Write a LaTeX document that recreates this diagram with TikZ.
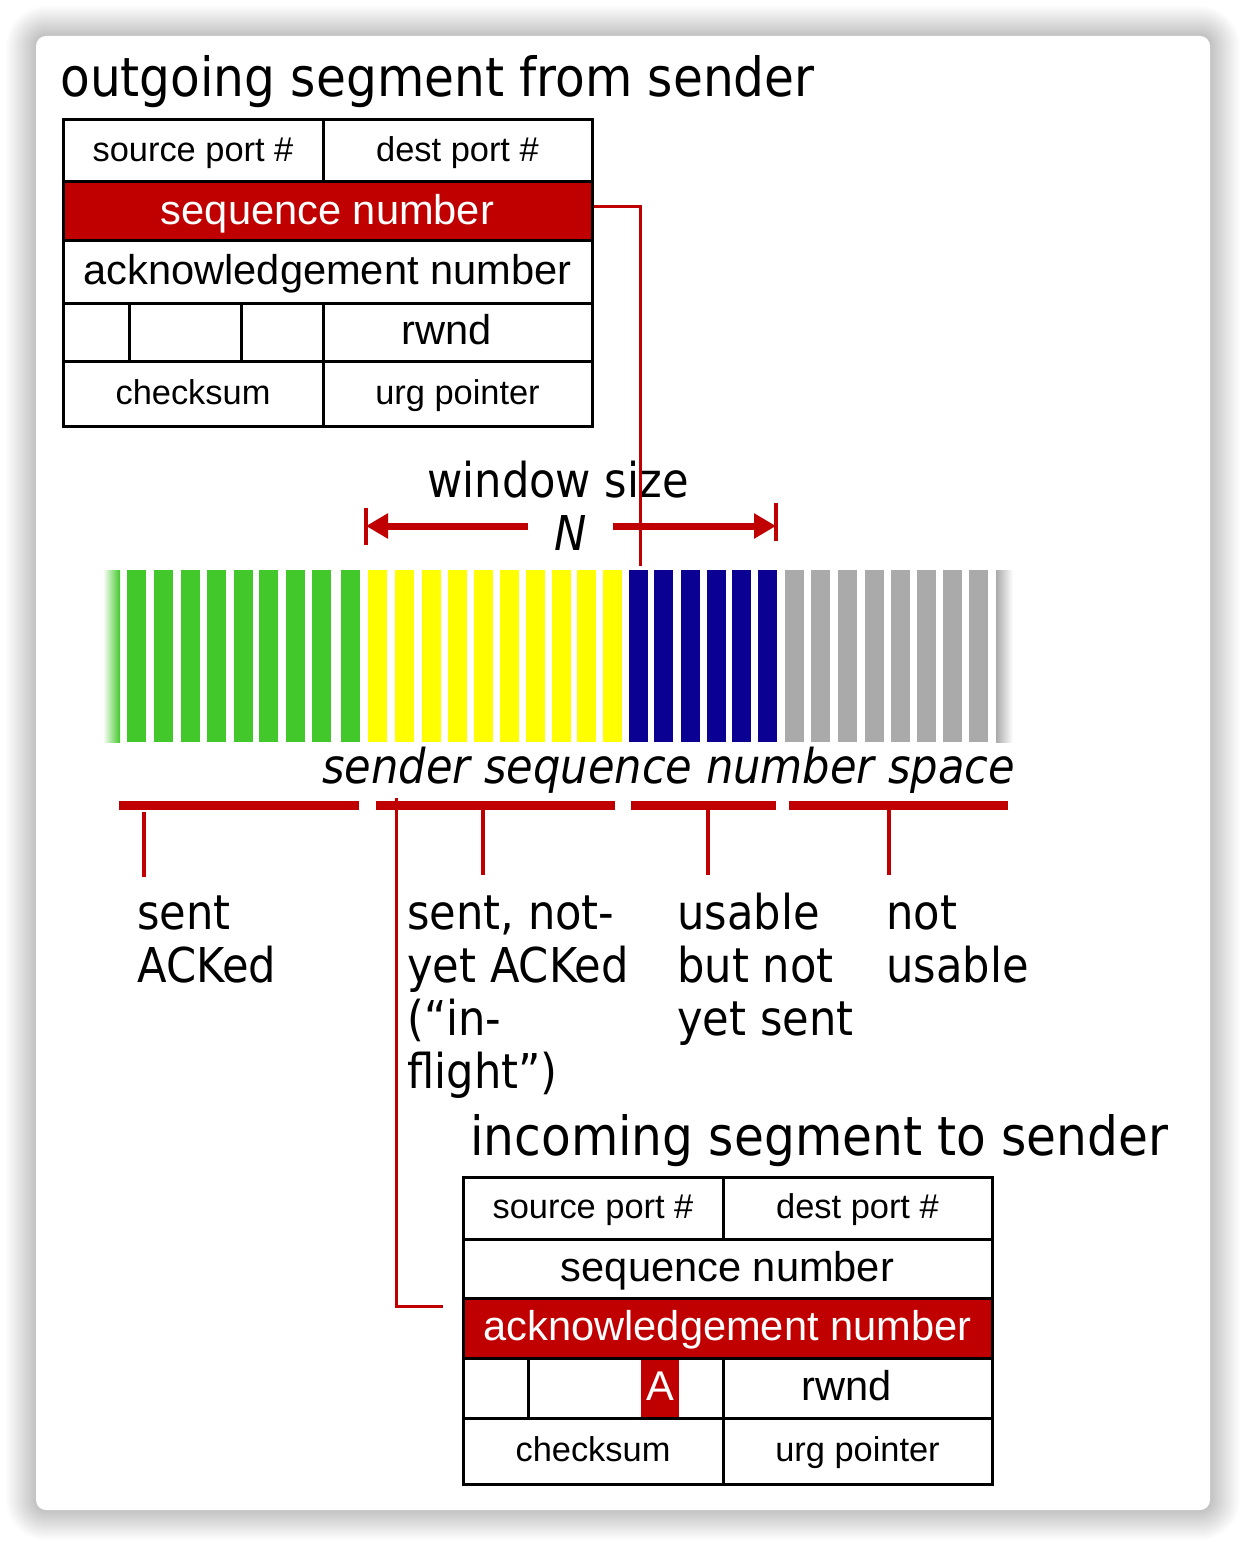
\documentclass[tikz,border=0pt]{standalone}
\usepackage{fontspec}
\setmainfont{Liberation Sans}
\newfontfamily\tah{DejaVu Sans Condensed}
\usetikzlibrary{arrows.meta}
\definecolor{kred}{RGB}{192,0,0}
\definecolor{kgreen}{RGB}{66,200,42}
\definecolor{kyellow}{RGB}{255,255,0}
\definecolor{kblue}{RGB}{10,0,145}
\definecolor{kgray}{RGB}{170,170,170}
\newcommand\kbox[1]{\parbox[t]{200pt}{\raggedright #1}}
\begin{document}
\begin{tikzpicture}[x=0.5pt,y=-0.5pt,
  cell/.style={draw=black, line width=1.5pt, inner sep=0pt, rectangle},
  small/.style={font=\fontsize{17.2pt}{20pt}\selectfont, text height=12.4pt, text depth=1.7pt},
  big/.style={font=\fontsize{20.8pt}{24pt}\selectfont, text height=15pt, text depth=2.1pt},
  redcell/.style={fill=kred, text=white},
  title/.style={font=\tah\fontsize{27pt}{30pt}\selectfont, inner sep=0pt, anchor=base west},
  lbl/.style={font=\tah\fontsize{24pt}{26.5pt}\selectfont, inner sep=0pt, anchor=base west},
  conn/.style={draw=kred, line width=1.5pt},
  warr/.style={draw=kred, line width=3.5pt, -{Triangle[length=11pt,width=12pt]}},
  brk/.style={draw=kred, line width=4.5pt},
  tick/.style={draw=kred, line width=1.75pt}
]
\useasboundingbox (0,0) rectangle (1246,1546);
\fill[white] (0,0) rectangle (1246,1546);
% shadow
\foreach \i in {1,...,30}{
  \pgfmathsetmacro\rr{5+0.5*\i}
  \fill[black, opacity=0.008, rounded corners=\rr pt] ({36-\i},{36-\i}) rectangle ({1210+\i},{1510+\i});
}
\fill[white, rounded corners=5pt] (36,36) rectangle (1210,1510);

% titles
\node[title] (t1) at (60,97) {outgoing segment from sender};
\node[title] (t2) at (470,1155) {incoming segment to sender};

% top table
\node[cell,small,minimum width=130pt,minimum height=31pt] (sp1) at (193,151) {source port \#};
\node[cell,small,minimum width=134.5pt,minimum height=31pt] (dp1) at (457.5,151) {dest port \#};
\node[cell,big,redcell,minimum width=264.5pt,minimum height=29.5pt] (seq1) at (327.5,211.5) {sequence number};
\node[cell,big,minimum width=264.5pt,minimum height=31pt] (ack1) at (327.5,272) {acknowledgement number};
\node[cell,minimum width=33pt,minimum height=29pt] (f1a) at (96,332) {};
\node[cell,minimum width=56pt,minimum height=29pt] (f1b) at (185,332) {};
\node[cell,minimum width=41pt,minimum height=29pt] (f1c) at (282,332) {};
\node[cell,big,minimum width=134.5pt,minimum height=29pt] (rw1) at (457.5,332) {rwnd\hspace*{11pt}};
\node[cell,small,minimum width=130pt,minimum height=32.5pt] (ck1) at (193,393.5) {checksum};
\node[cell,small,minimum width=134.5pt,minimum height=32.5pt] (ur1) at (457.5,393.5) {urg pointer};

% bottom table
\node[cell,small,minimum width=130pt,minimum height=31pt] (sp2) at (593,1208) {source port \#};
\node[cell,small,minimum width=134.5pt,minimum height=31pt] (dp2) at (857.5,1208) {dest port \#};
\node[cell,big,minimum width=264.5pt,minimum height=29.5pt] (seq2) at (727.5,1268.5) {sequence number};
\node[cell,big,redcell,minimum width=264.5pt,minimum height=30pt] (ack2) at (727.5,1328) {acknowledgement number};
\node[cell,minimum width=32.5pt,minimum height=30pt] (f2a) at (495.5,1388) {};
\node[cell,minimum width=97.5pt,minimum height=30pt] (f2b) at (625.5,1388) {};
\node[big,fill=kred,text=white,inner sep=0pt,minimum width=19pt,minimum height=28.5pt] (abit) at (660,1388) {A};
\node[cell,big,minimum width=134.5pt,minimum height=30pt] (rw2) at (857.5,1388) {rwnd\hspace*{11pt}};
\node[cell,small,minimum width=130pt,minimum height=33pt] (ck2) at (593,1451) {checksum};
\node[cell,small,minimum width=134.5pt,minimum height=33pt] (ur2) at (857.5,1451) {urg pointer};

% sequence number bars
\shade[left color=white, right color=kgreen] (103,570) rectangle (120,742);
\foreach \x in {126.5,154,181,207,234,259,286,312,341}
  \fill[kgreen] (\x,570) rectangle ++(19,172);
\foreach \x in {368,395,422,448,474,500,526,552,577,603}
  \fill[kyellow] (\x,570) rectangle ++(19,172);
\foreach \x in {629,654,681,707,732,758}
  \fill[kblue] (\x,570) rectangle ++(19,172);
\foreach \x in {785,811,838,865,891,917,943,969}
  \fill[kgray] (\x,570) rectangle ++(19,172);
\shade[left color=kgray, right color=white] (996,570) rectangle (1013,742);

% window size
\node[lbl, anchor=base] (win) at (558,497) {window size};
\node[lbl, anchor=base] (nsym) at (571,550) {\itshape N};
\coordinate (wL) at (366,526);
\coordinate (wR) at (776,526);
\coordinate (wLi) at (528,526);
\coordinate (wRi) at (613,526);
\draw[warr] (wLi) -- (wL);
\draw[warr] (wRi) -- (wR);
\draw[kred, line width=2pt] (366,508) -- (366,545);
\draw[kred, line width=2pt] (776,503) -- (776,541);

% axis label
\node[lbl] (space) at (322,783) {\itshape sender sequence number space};

% brackets
\draw[brk] (119,805.5) -- (359,805.5);
\draw[brk] (376,805.5) -- (615,805.5);
\draw[brk] (631,805.5) -- (776,805.5);
\draw[brk] (789,805.5) -- (1008,805.5);
\draw[tick] (144,812) -- (144,877);
\draw[tick] (483,810) -- (483,875);
\draw[tick] (708,810) -- (708,875);
\draw[tick] (889,810) -- (889,875);

% category labels
\node[lbl] (l1) at (137,929) {\kbox{sent\\ACKed}};
\node[lbl] (l2) at (407,929) {\kbox{sent, not-\\yet ACKed\\(“in-\\flight”)}};
\node[lbl] (l3) at (677,929) {\kbox{usable\\but not\\yet sent}};
\node[lbl] (l4) at (886,929) {\kbox{not\\usable}};

% connectors
\coordinate (barTop) at (640,566);
\draw[conn] ([yshift=2.25pt]seq1.east) -| (barTop);
\coordinate (ackTop) at (396,798);
\coordinate (ackEnd) at (443,1306);
\draw[conn] (ackTop) |- (ackEnd);
\end{tikzpicture}
\end{document}
